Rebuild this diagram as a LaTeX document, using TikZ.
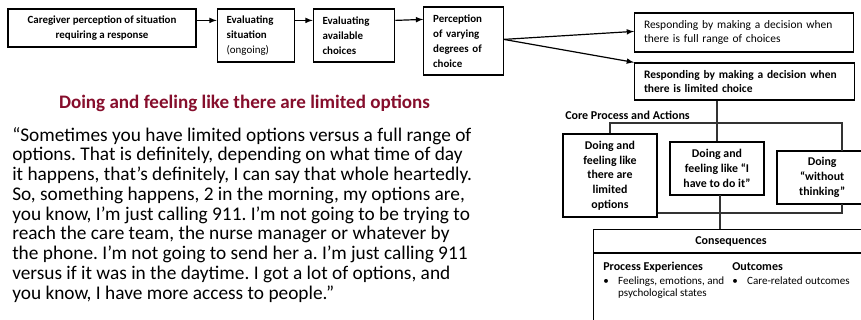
\documentclass[tikz,border=0pt]{standalone}
\usepackage{fontspec}
\setmainfont{Carlito}
\usepackage{xcolor}
\usetikzlibrary{calc,arrows,positioning}
\frenchspacing
\definecolor{quotered}{RGB}{134,14,44}
\tikzset{
  box/.style={draw, line width=0.9pt, inner sep=0pt, font=\fontsize{8.2}{11.2}\selectfont},
  lbox/.style={box, align=left, inner xsep=7pt},
  cbox/.style={box, align=center, font=\fontsize{8.9}{11}\selectfont\bfseries},
  arr/.style={-latex, line width=0.9pt},
  link/.style={draw=black!80, line width=0.8pt},
  small/.style={inner sep=0pt, font=\fontsize{8.3}{8.8}\selectfont}
}
\begin{document}
\begin{tikzpicture}[x=0.75pt,y=-0.75pt]
  \useasboundingbox (0,0) rectangle (861,320);
  \clip (0,0) rectangle (861,320);
  % process chain along the top
  \node[box, align=center, font=\fontsize{8.2}{11.2}\selectfont\bfseries, minimum width=141pt, minimum height=28.5pt] (caregiver) at (102,28)
    {Caregiver perception of situation\\requiring a response};
  \node[lbox, text width=44pt, minimum height=39.75pt] (situation) at (256,35.5)
    {\textbf{Evaluating}\\\textbf{situation}\\(ongoing)};
  \node[lbox, font=\fontsize{8.2}{11.2}\selectfont\bfseries, text width=47pt, minimum height=39.75pt] (choices) at (354,35.5)
    {Evaluating\\available\\choices};
  \node[lbox, font=\fontsize{8.2}{11.2}\selectfont\bfseries, text width=45.5pt, minimum height=51pt] (degrees) at (463.5,41)
    {Perception\\of varying\\degrees of\\choice};
  \draw[arr] ($(caregiver.north east)+(0,12)$) -- ($(situation.north west)+(0,12)$);
  \draw[arr] ($(situation.north east)+(0,12)$) -- ($(choices.north west)+(0,12)$);
  \draw[arr] ($(choices.north east)+(0,12)$) -- ($(degrees.north west)+(0,13)$);
  % the two kinds of response
  \node[lbox, font=\fontsize{8.6}{11}\selectfont, text width=150pt, minimum height=29.25pt] (fullrange) at (744,32.5)
    {Responding by making a decision when\\there is full range of choices};
  \node[lbox, font=\fontsize{8.6}{11}\selectfont\bfseries, text width=150.75pt, minimum height=27.75pt] (limited) at (744.5,81.5)
    {Responding by making a decision when\\there is limited choice};
  \coordinate (split) at ($(degrees.north east)+(0,33)$);
  \draw[arr] (split) -- ($(fullrange.north west)+(0,19)$);
  \draw[arr] (split) -- (limited.north west);
  % core process and actions
  \node[anchor=west, inner sep=0pt, font=\fontsize{9}{10}\selectfont\bfseries] (coretitle) at (565,115) {Core Process and Actions};
  \node[cbox, minimum width=70.5pt, minimum height=62.25pt] (optionsbox) at (610,175.5)
    {Doing and\\feeling like\\there are\\limited\\options};
  \node[cbox, minimum width=70.5pt, minimum height=39.75pt] (doit) at (717,168.5)
    {Doing and\\feeling like ``I\\have to do it''};
  \node[cbox, minimum width=63.75pt, minimum height=39.75pt] (nothink) at (819.5,177.5)
    {\hspace*{4pt}Doing\\\hspace*{4pt}``without\\\hspace*{4pt}thinking''};
  \coordinate (topbar) at (842,123);
  \coordinate (lowbar) at (842,213);
  \draw[link] (doit.north |- limited.south) -- (doit.north);
  \draw[link] (optionsbox.north) |- (topbar) -- (842,151);
  \draw[link] (optionsbox.east |- lowbar) -- (lowbar) -- (842,204);
  % consequences
  \node[draw, line width=0.9pt, anchor=north west, minimum width=220pt, minimum height=78pt] (cons) at (593,229) {};
  \draw[line width=0.9pt] (593,253) -- (870,253);
  \draw[link] (720,195) -- (720,229);
  \node[inner sep=0pt, font=\fontsize{9}{10}\selectfont\bfseries] (constitle) at (731,242) {Consequences};
  \node[anchor=west, inner sep=0pt, font=\fontsize{9}{10}\selectfont\bfseries] (experiences) at (603,267) {Process Experiences};
  \node[anchor=west, inner sep=0pt, font=\fontsize{9}{10}\selectfont\bfseries] (outcomes) at (732,267) {Outcomes};
  \node[small, anchor=north west, align=left] (feelings) at (603,276)
    {\begin{tabular}{@{}l@{\hspace{7pt}}l@{}}\textbullet & Feelings, emotions, and\\ & psychological states\end{tabular}};
  \node[small, anchor=north west, align=left] (care) at (732,276)
    {\begin{tabular}{@{}l@{\hspace{7pt}}l@{}}\textbullet & Care-related outcomes\end{tabular}};
  % the quote
  \node[text=quotered, inner sep=0pt, font=\fontsize{14.3}{16}\selectfont\bfseries] (quotetitle) at (244.5,103)
    {Doing and feeling like there are limited options};
  \node[anchor=north west, inner sep=0pt, align=left, font=\fontsize{14.5}{14.8}\selectfont] (quote) at (12,127)
    {``Sometimes you have limited options versus a full range of\\
     options. That is definitely, depending on what time of day\\
     it happens, that’s definitely, I can say that whole heartedly.\\
     So, something happens, 2 in the morning, my options are,\\
     you know, I’m just calling 911. I’m not going to be trying to\\
     reach the care team, the nurse manager or whatever by\\
     the phone. I’m not going to send her a. I’m just calling 911\\
     versus if it was in the daytime. I got a lot of options, and\\
     you know, I have more access to people.''};
\end{tikzpicture}
\end{document}
